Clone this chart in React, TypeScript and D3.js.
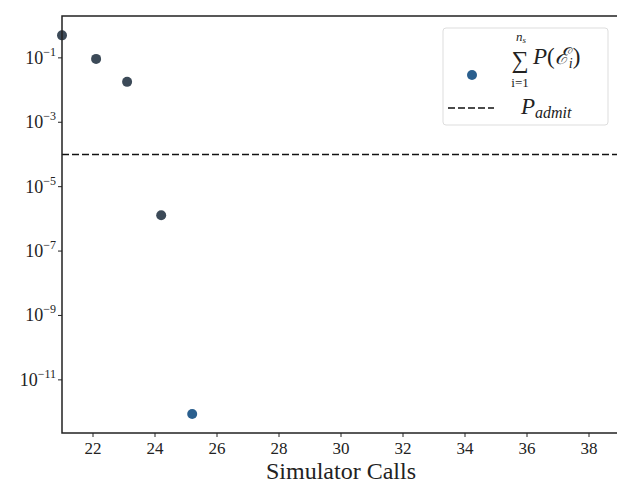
import React, { useEffect, useRef } from "react"
import * as d3 from "d3"

// simulator calls vs. summed failure probability
const calls = [21.0, 22.1, 23.1, 24.2, 25.2]
const probSum = [0.5, 0.093, 0.018, 1.3e-6, 8.7e-13]
const pointColors = ["#3c4a58", "#3c4a58", "#3c4a58", "#3c4a58", "#2a5f8e"]
const pAdmit = 1e-4
const xTicks = [22, 24, 26, 28, 30, 32, 34, 36, 38]
const yTickExps = [-1, -3, -5, -7, -9, -11]

const W = 617
const H = 485
const FONT = "'Liberation Serif', 'DejaVu Serif', serif"

export default function App() {
    const ref = useRef<SVGSVGElement>(null)

    useEffect(() => {
        const svg = d3.select(ref.current)
        svg.selectAll("*").remove()

        const left = 62,
            top = 16,
            bottom = 433,
            right = 620

        const x = d3.scaleLinear().domain([21, 39]).range([left, right])
        const y = d3
            .scaleLog()
            .domain([Math.pow(10, -12.65), Math.pow(10, 0.3)])
            .range([bottom, top])

        svg.append("rect").attr("width", W).attr("height", H).attr("fill", "#fff")

        // p_admit threshold
        svg.append("line")
            .attr("x1", left)
            .attr("x2", right)
            .attr("y1", y(pAdmit))
            .attr("y2", y(pAdmit))
            .attr("stroke", "#111")
            .attr("stroke-width", 1.5)
            .attr("stroke-dasharray", "7,3")

        // points
        svg.append("g")
            .selectAll("circle")
            .data(calls)
            .enter()
            .append("circle")
            .attr("cx", (d) => x(d))
            .attr("cy", (d, i) => y(probSum[i]))
            .attr("r", 5)
            .attr("fill", (d, i) => pointColors[i])

        // spines
        svg.append("rect")
            .attr("x", left)
            .attr("y", top)
            .attr("width", right - left)
            .attr("height", bottom - top)
            .attr("fill", "none")
            .attr("stroke", "#222")
            .attr("stroke-width", 1.5)

        // x ticks
        const xg = svg.append("g")
        xTicks.forEach((t) => {
            xg.append("line")
                .attr("x1", x(t))
                .attr("x2", x(t))
                .attr("y1", bottom)
                .attr("y2", bottom + 4)
                .attr("stroke", "#222")
            xg.append("text")
                .attr("x", x(t))
                .attr("y", bottom + 21)
                .attr("text-anchor", "middle")
                .style("font-family", FONT)
                .style("font-size", "17px")
                .attr("fill", "#222")
                .text(t)
        })
        svg.append("text")
            .attr("x", (265 + 417) / 2)
            .attr("y", 479)
            .attr("text-anchor", "middle")
            .style("font-family", FONT)
            .style("font-size", "24px")
            .attr("fill", "#222")
            .text("Simulator Calls")

        // y ticks
        const yg = svg.append("g")
        yTickExps.forEach((e) => {
            const yy = y(Math.pow(10, e))
            yg.append("line")
                .attr("x1", left - 4)
                .attr("x2", left)
                .attr("y1", yy)
                .attr("y2", yy)
                .attr("stroke", "#222")
            const t = yg
                .append("text")
                .attr("x", left - 6)
                .attr("y", yy + 6)
                .attr("text-anchor", "end")
                .style("font-family", FONT)
                .style("font-size", "18px")
                .attr("fill", "#222")
            t.append("tspan").text("10")
            t.append("tspan")
                .attr("dy", -8)
                .style("font-size", "12px")
                .text("\u2212" + Math.abs(e))
        })

        // legend
        const lg = svg.append("g")
        lg.append("rect")
            .attr("x", 443)
            .attr("y", 28)
            .attr("width", 165)
            .attr("height", 97)
            .attr("rx", 3)
            .attr("fill", "#fff")
            .attr("stroke", "#ddd")
        lg.append("circle").attr("cx", 472).attr("cy", 75).attr("r", 5).attr("fill", "#2a5f8e")
        lg.append("line")
            .attr("x1", 448)
            .attr("x2", 494)
            .attr("y1", 108)
            .attr("y2", 108)
            .attr("stroke", "#111")
            .attr("stroke-width", 1.5)
            .attr("stroke-dasharray", "7,3")
        const txt = (xx: number, yy: number, s: string, size: number, italic = false, anchor = "start") =>
            lg.append("text")
                .attr("x", xx)
                .attr("y", yy)
                .attr("text-anchor", anchor)
                .style("font-family", FONT)
                .style("font-size", size + "px")
                .style("font-style", italic ? "italic" : "normal")
                .attr("fill", "#222")
                .text(s)
        txt(520, 68, "\u2211", 24, false, "middle")
        const ns = txt(521, 41, "", 13, true, "middle")
        ns.append("tspan").text("n")
        ns.append("tspan").attr("dy", 2).style("font-size", "9px").text("s")
        txt(520, 87, "i=1", 13, false, "middle")
        const pe = txt(533, 64, "", 23, false)
        pe.append("tspan").style("font-style", "italic").text("P")
        pe.append("tspan").text("(")
        pe.append("tspan").style("font-style", "italic").text("\u2130")
        pe.append("tspan").attr("dy", 4).style("font-size", "14px").style("font-style", "italic").text("i")
        pe.append("tspan").attr("dy", -4).text(")")
        const pa = txt(521, 114, "", 23, true)
        pa.append("tspan").text("P")
        pa.append("tspan").attr("dy", 4).style("font-size", "16px").text("admit")
    }, [])

    return (
        <svg
            ref={ref}
            width={W}
            height={H}
            style={{ position: "absolute", left: 0, top: 0, display: "block" }}
        />
    )
}
